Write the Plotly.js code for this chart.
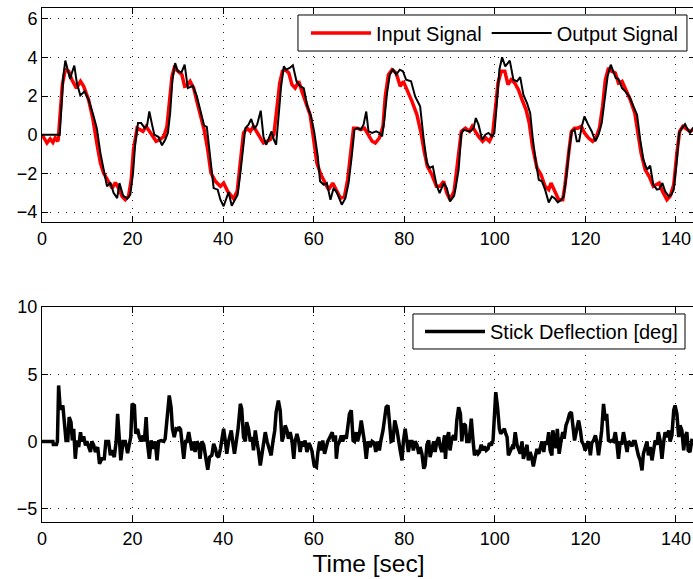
<!DOCTYPE html>
<html>
<head>
<meta charset="utf-8">
<script src="https://cdn.plot.ly/plotly-3.0.1.min.js"></script>
<style>
html,body{margin:0;padding:0;overflow:hidden;background:#fff;}
#chart{width:695px;height:579px;}
</style>
</head>
<body>
<div id="chart"></div>
<script>
// ---- Data ----
const inputT = [0,1.1,1.8,2.4,2.9,3.5,3.6,4.0,4.5,5.15,5.9,6.6,7.6,8.5,9.2,10.3,11.2,12.1,12.9,13.6,14.7,15.5,16.2,16.9,17.7,18.4,19.1,19.7,20.2,21.0,21.7,22.3,23.0,23.8,24.5,25.2,26.0,26.9,27.6,28.2,28.7,29.2,29.9,30.9,31.5,32.0,32.7,33.5,34.2,35.0,35.8,36.6,37.3,38.3,39.4,40.1,41.0,41.9,42.3,43.1,43.8,44.5,45.3,46.0,46.7,47.5,48.2,48.9,49.7,50.4,51.2,51.9,52.5,53.1,53.7,54.5,55.2,55.9,56.7,57.4,58.4,59.2,60.0,60.7,61.6,62.6,63.3,64.2,65.0,65.9,66.8,67.5,68.2,68.8,69.6,70.4,71.2,71.9,72.9,73.6,74.5,75.3,75.8,76.5,77.3,78.2,79.1,79.8,80.6,81.7,82.8,83.7,84.4,85.1,86.1,87.1,87.9,88.7,89.4,90.1,91.0,91.8,92.6,93.5,94.4,95.0,95.7,96.4,97.3,98.0,98.8,99.5,100.1,100.7,101.4,102.2,102.9,103.6,104.4,105.2,106.0,106.9,107.6,108.3,109.3,110.2,111.1,111.9,112.4,113.2,114.1,115.0,115.5,116.3,116.9,117.6,118.3,119.1,119.8,120.7,121.6,122.3,123.1,123.8,124.4,125.1,125.8,126.6,127.3,128.1,128.9,129.9,130.9,131.6,132.3,133.2,134.1,135.0,135.8,136.3,137.0,138.0,138.7,139.5,140.2,140.8,141.5,142.4,143.1,143.8,144.3];
const inputV = [0,-0.43,-0.22,-0.4,-0.17,-0.34,-0.2,1.2,2.6,3.36,3.28,2.84,2.41,2.76,2.5,1.8,0.86,-0.43,-1.47,-1.98,-2.41,-2.76,-2.47,-2.76,-3.19,-3.36,-3.19,-2.33,-0.78,0.34,0.26,0.17,0.43,0.17,-0.09,-0.34,-0.26,-0.09,0.43,1.8,3.0,3.45,3.28,3.1,2.5,2.53,2.76,2.41,1.72,1.03,0.26,-0.78,-1.98,-2.41,-2.67,-2.5,-2.93,-3.19,-3.3,-2.93,-1.47,0.09,0.34,0.17,0.43,0.09,-0.17,-0.43,-0.34,-0.26,0,1.29,2.67,3.28,3.36,3.19,2.59,2.41,2.76,2.24,1.55,1.03,-0.26,-1.47,-2.07,-2.5,-2.84,-2.5,-2.84,-3.28,-3.19,-2.33,-0.86,0.34,0.34,0.26,0.34,0.09,-0.34,-0.43,-0.17,0.43,1.98,3.1,3.36,3.19,2.5,2.76,2.33,1.72,1.03,0.09,-0.86,-1.64,-2.07,-2.67,-2.67,-2.41,-3.02,-3.36,-2.93,-1.3,0.17,0.34,0.17,0.43,0.17,-0.09,-0.34,-0.17,-0.34,0,1.29,2.67,3.28,3.28,2.59,2.84,2.67,2.33,1.81,1.29,0.6,-0.6,-1.72,-2.07,-2.67,-2.84,-2.5,-2.93,-3.36,-3.36,-2.59,-0.95,0.17,0.34,0.34,0.43,0.09,-0.17,-0.34,-0.17,0.34,1.47,2.84,3.45,3.28,3.19,2.67,2.76,2.33,1.81,1.12,0.09,-0.95,-1.81,-2.16,-2.67,-2.59,-2.5,-2.93,-3.36,-3.19,-2.59,-0.95,0.17,0.43,0.26,0.17,0.26,0.3];

const outputT = [0,3.7,3.9,4.3,4.7,5.15,5.6,6.2,6.6,7.14,7.7,8.46,9.4,10.3,11.4,12.1,12.9,13.6,14.35,15.1,15.8,16.6,17.1,17.9,18.8,19.5,20.1,20.6,21.2,21.9,22.7,23.2,23.7,24.3,24.8,25.75,26.5,27.2,27.8,28.3,28.8,29.4,30.0,30.8,31.5,32.2,33.3,34.2,35.0,35.8,36.4,37.2,37.9,38.8,39.4,40.1,41.2,41.9,42.7,43.2,43.8,44.4,44.9,45.6,46.2,46.9,47.5,48.3,48.9,49.5,50.0,50.7,51.2,51.7,52.3,52.8,53.4,53.9,54.7,55.4,56.2,56.9,57.8,58.6,59.4,60.1,60.9,61.4,62.2,62.9,63.7,64.4,65.1,66.2,67.0,67.7,68.4,69.0,69.7,70.4,71.0,71.6,72.1,72.9,73.8,74.5,75.1,75.6,76.2,76.8,77.5,78.2,79.0,79.7,80.4,81.5,82.4,83.5,84.3,85.0,85.6,86.3,87.1,87.8,88.7,89.4,90.1,91.0,91.4,92.0,92.6,93.1,93.9,94.6,95.3,95.8,96.4,97.2,97.9,98.6,99.4,99.9,100.5,101.0,101.6,102.3,103.3,104.1,104.9,105.6,106.3,107.1,107.8,108.4,109.1,109.7,110.4,111.1,111.9,112.6,113.2,113.9,114.7,115.2,115.8,116.4,117.0,117.6,118.1,118.6,119.2,119.8,120.5,121.4,122.2,122.9,123.6,124.2,124.9,125.6,126.2,126.7,127.3,128.1,128.8,129.7,130.6,131.4,132.1,132.8,133.6,134.3,135.0,135.8,136.3,137.0,137.6,138.4,139.0,139.5,140.2,140.7,141.3,142.0,142.6,143.1,143.7,144.3];
const outputV = [0,0,-0.05,1.3,3.0,3.83,3.4,2.88,3.2,3.57,2.67,2.03,2.24,1.8,0.95,0.34,-0.95,-1.8,-2.67,-2.47,-3.0,-3.28,-2.5,-3.15,-3.3,-3.1,-1.98,-0.43,0.6,0.6,0.34,0.47,1.2,0.52,0,-0.12,-0.55,-0.26,0.09,1.12,2.84,3.7,3.28,3.22,3.62,2.41,2.53,1.98,1.29,0.47,0.4,-1.12,-2.76,-2.84,-3.36,-3.7,-2.97,-3.67,-3.36,-3.1,-1.98,-0.78,0.34,0.52,0.81,0.29,0.52,1.24,-0.09,-0.52,-0.26,0.17,-0.26,-0.52,1.12,2.5,3.53,3.36,3.45,3.59,2.76,2.53,2.41,1.47,0.95,0.17,-1.12,-2.41,-2.59,-2.5,-3.36,-2.76,-2.98,-3.62,-3.28,-2.5,-1.12,0.26,0.34,0.26,0.52,1.2,0.17,0.09,0.17,0.09,-0.09,0.78,2.16,3.1,3.4,3.1,3.36,3.28,2.84,2.76,1.98,1.47,-0.26,-1.47,-1.72,-1.64,-2.59,-3.02,-2.5,-2.76,-3.45,-3.16,-2.67,-1.8,0.05,0.26,0.2,0.17,0.34,0.86,0.52,-0.26,0,0.09,-0.09,0.09,1.81,3.36,4.0,3.53,3.83,2.84,2.76,2.98,2.07,1.64,1.12,-0.26,-1.47,-2.33,-2.41,-2.84,-3.5,-3.19,-3.28,-3.5,-3.36,-3.19,-2.16,-0.78,0.17,0.26,-0.34,-0.34,0.43,0.95,0.57,0.17,-0.34,0,0.6,1.81,3.02,3.62,3.28,2.93,2.88,2.41,2.24,1.98,1.47,1.03,-0.26,-1.29,-1.81,-1.6,-2.59,-2.84,-2.8,-2.5,-2.93,-3.19,-3.1,-2.84,-1.29,0.09,0.34,0.55,0.26,0.09,0.34,0.3];

const stickT = [0,2.4,2.5,3.2,3.4,3.67,4.0,4.3,4.6,4.9,5.3,5.7,6.0,6.4,6.7,7.0,7.35,7.7,8.1,8.5,8.8,9.2,9.6,9.9,10.3,10.7,11.0,11.4,11.8,12.3,12.7,13.2,13.75,14.1,14.7,15.1,15.4,15.96,16.4,16.7,17.1,17.4,17.9,18.4,18.9,19.35,19.6,19.9,20.4,20.7,21.1,21.5,21.9,22.3,22.6,23.0,23.3,23.7,24.1,24.5,25.0,25.4,25.75,26.3,26.9,27.2,27.7,28.1,28.5,28.8,29.2,29.6,30.0,30.2,30.6,30.9,31.3,31.7,32.0,32.4,32.7,33.1,33.5,33.8,34.2,34.6,34.9,35.3,35.7,36.1,36.6,37.0,37.5,37.9,38.3,38.6,39.0,39.4,39.7,40.1,40.5,40.8,41.2,41.8,42.1,42.5,42.9,43.3,43.8,44.1,44.5,44.9,45.2,45.6,46.0,46.4,46.7,47.1,47.4,47.8,48.2,48.6,48.9,49.3,49.7,50.2,50.6,51.0,51.4,51.7,52.2,52.6,53.0,53.3,53.7,54.1,54.4,54.8,55.2,55.6,55.9,56.3,56.7,57.0,57.4,57.8,58.1,58.5,58.9,59.2,59.6,60.1,60.6,60.9,61.3,61.7,62.0,62.4,62.8,63.1,63.4,63.8,64.1,64.4,64.8,65.0,65.3,65.7,66.1,66.4,66.8,67.2,67.6,67.9,68.3,68.7,69.0,69.4,69.7,70.1,70.5,70.9,71.2,71.6,72.0,72.5,72.9,73.4,73.7,74.1,74.5,74.8,75.3,75.7,76.0,76.4,76.7,77.1,77.5,77.9,78.4,78.7,79.1,79.5,79.8,80.2,80.6,80.9,81.3,81.7,82.0,82.4,82.8,83.2,83.5,83.9,84.3,84.6,85.0,85.4,85.7,86.1,86.5,86.8,87.2,87.6,87.9,88.3,88.7,88.9,89.1,89.4,89.8,90.1,90.5,90.9,91.3,91.6,92.0,92.4,92.7,93.1,93.5,93.8,94.3,94.8,95.2,95.5,95.9,96.3,96.6,97.0,97.4,97.7,98.1,98.5,98.8,99.2,99.6,99.9,100.2,100.6,101.0,101.3,101.7,102.1,102.4,102.7,103.0,103.4,103.8,104.1,104.5,104.9,105.2,105.6,106.0,106.3,106.7,107.1,107.4,107.8,108.2,108.5,108.9,109.3,109.7,110.0,110.4,110.8,111.1,111.5,111.9,112.2,112.6,112.8,113.2,113.5,113.8,114.2,114.6,115.0,115.3,115.7,116.1,116.5,116.9,117.2,117.6,118.1,118.5,118.9,119.2,119.6,119.95,120.3,120.7,121.1,121.4,121.8,122.2,122.5,122.9,123.3,123.6,124.0,124.4,124.7,125.1,125.5,125.8,126.2,126.6,126.9,127.3,127.7,128.0,128.4,128.8,129.2,129.5,129.9,130.3,130.6,131.0,131.4,131.7,132.1,132.5,132.8,133.2,133.6,133.9,134.3,134.7,135.0,135.4,135.8,136.1,136.5,136.9,137.3,137.6,138.0,138.4,138.7,139.1,139.5,139.8,140.2,140.6,140.9,141.3,141.7,142.0,142.4,142.7,143.1,143.5,144.3];
const stickV = [0,0,-0.22,-0.22,0,4.17,2.55,2.4,2.68,1.56,0.07,0.07,1.81,1.44,0.07,0.94,-1.29,0.07,-0.42,0.69,0,0.37,-0.3,0,-0.42,-0.79,0,-0.25,-0.79,-0.42,-1.66,-1.29,-1.29,0,0,-1.04,-0.67,-1.17,0.07,2.06,0.07,-1.41,0,0,-0.87,0,0.32,2.8,2.68,0.57,0.94,0.32,0,0.45,0,1.81,-0.17,-1.29,0.07,-0.55,0,-1.41,0,0.07,0,0.2,2.31,3.42,2.55,0.94,0.32,0.94,0.9,1.07,0.9,0,-1.29,0,0,0.69,0.07,-0.67,0,-0.79,0,-0.25,-1.29,0,-0.25,-1.04,-2.1,-1.17,-1.04,-0.17,-0.55,-1.04,-1.17,-0.55,0,0.94,0,-0.92,0,0.82,0,-0.92,0,0.94,2.8,2.43,0.32,0,1.44,0.94,0,0.32,-0.67,0.82,0.07,-0.67,-1.79,-0.79,0,0.69,0,-0.55,-1.04,0,0.82,2.18,3.05,2.31,0,0.32,1.19,0.82,0.2,0.69,0.07,-1.29,0,0.57,0,-0.79,0,-0.37,0.07,-0.79,-0.12,-0.3,-0.7,-1.79,-1.91,-0.87,0,-0.67,0.07,-0.92,-0.3,0,0.2,0.57,0.69,0,0.45,-1.29,-0.3,0,0.45,0,0.45,0.2,1.56,2.06,2.31,0.07,0,0.69,0,0.57,1.56,0.82,0,-1.29,0,-0.42,0,-0.12,-0.79,0,-0.67,0,0.82,1.81,2.55,2.68,1.56,0,0.07,1.56,0.82,0,-0.67,-1.41,0,0.94,0,-0.79,0,0,-0.67,0,-0.25,-0.92,-0.42,-0.92,-2.03,-1.79,-0.25,0.07,-1.17,-0.42,0,-0.79,0,0.32,-0.37,-0.79,0.07,0.45,-1.3,0.2,0.69,-0.67,0.2,0.45,0.07,1.56,2.55,2.06,0,1.31,1.19,0,0,1.69,0,-1.04,-0.67,-0.92,-0.79,-0.25,-0.67,-0.37,-0.67,-0.55,-0.12,-0.3,0.07,2.06,3.67,2.55,0.94,0.57,0.82,0.94,0.57,0.32,-1.04,-0.79,-0.42,-0.55,0.69,-0.25,-0.55,-0.92,0,-1.29,-0.79,-0.25,-1.41,-0.79,-1.29,-1.86,-1.17,-0.55,-0.92,-0.55,0,-0.79,0,-0.25,0.69,-0.67,-1.04,0.82,-0.12,-0.5,0.94,-0.92,0,0.69,0.2,1.19,1.56,2.06,2.18,0.94,0.07,0.94,1.56,0.82,0,-0.25,-0.67,-0.25,0,-1.04,-0.12,0.07,0.45,0,-1.04,0,0.82,2.8,1.56,2.06,0.07,0,0.07,0,0.69,0,-1.29,0,-0.25,0.69,0,-0.79,0,-0.12,-0.37,0,0,-0.67,-1.04,-1.41,-2.16,-0.92,-0.42,0,-1.04,-0.42,-1.41,-0.67,0.07,-0.25,0.69,0.07,-1.29,0,0.69,0.32,0.82,0,0.45,2.31,2.68,2.06,0.32,1.19,0.82,-0.67,0.32,0.69,-0.67,-0.79,0.07,0];

const xTicks = [0,20,40,60,80,100,120,140];
const yTicksTop = [-4,-2,0,2,4,6];
const yTicksBottom = [-5,0,5,10];

// ---- Styling ----
const FONT = 'Liberation Sans, Arial, Helvetica, sans-serif';
const gridDash = '1px,7px';
function xAx(extra){
  return Object.assign({
    range:[0,144.2], tickmode:'array', tickvals:xTicks,
    showgrid:true, gridcolor:'#222', gridwidth:1, griddash:gridDash,
    zeroline:false, showline:true, linecolor:'#000', linewidth:1, mirror:'ticks',
    ticks:'inside', ticklen:6, tickcolor:'#000', tickwidth:1,
    tickfont:{family:FONT,size:18,color:'#000'}, automargin:false
  }, extra);
}
function yAx(extra){
  return Object.assign({
    tickmode:'array',
    showgrid:true, gridcolor:'#222', gridwidth:1, griddash:gridDash,
    zeroline:false, showline:true, linecolor:'#000', linewidth:1, mirror:'ticks',
    ticks:'inside', ticklen:6, tickcolor:'#000', tickwidth:1,
    tickfont:{family:FONT,size:18,color:'#000'}, automargin:false
  }, extra);
}

const traces = [
  {x:inputT, y:inputV, type:'scatter', mode:'lines', name:'Input Signal',
   line:{color:'#ff0000', width:3.5}, xaxis:'x', yaxis:'y', legend:'legend'},
  {x:outputT, y:outputV, type:'scatter', mode:'lines', name:'Output Signal',
   line:{color:'#000000', width:2}, xaxis:'x', yaxis:'y', legend:'legend'},
  {x:stickT, y:stickV, type:'scatter', mode:'lines', name:'Stick Deflection [deg]',
   line:{color:'#000000', width:3.5}, xaxis:'x2', yaxis:'y2', legend:'legend2'}
];

const legendFont = {family:FONT,size:20,color:'#000'};
const layout = {
  width:695, height:579,
  margin:{l:42, r:0, t:8, b:57},
  paper_bgcolor:'#fff', plot_bgcolor:'#fff',
  font:{family:FONT, color:'#000'},
  showlegend:true,
  xaxis: xAx({anchor:'y', domain:[0,1]}),
  yaxis: yAx({anchor:'x', domain:[0.583,1], range:[-4.53,6.55], tickvals:yTicksTop}),
  xaxis2: xAx({anchor:'y2', domain:[0,1],
    title:{text:'Time [sec]', font:{family:FONT,size:24.5,color:'#000'}, standoff:7}}),
  yaxis2: yAx({anchor:'x2', domain:[0,0.418], range:[-6,10], tickvals:yTicksBottom}),
  shapes:[
    {type:'rect', xref:'paper', yref:'paper', x0:0.3920, x1:0.9877, y0:0.9163, y1:0.9864,
     line:{color:'#000', width:1}, fillcolor:'#fff', layer:'above'},
    {type:'rect', xref:'paper', yref:'paper', x0:0.5681, x1:0.9847, y0:0.3366, y1:0.4047,
     line:{color:'#000', width:1}, fillcolor:'#fff', layer:'above'}
  ],
  legend:{orientation:'h', x:0.4043, xanchor:'left', y:0.9514, yanchor:'middle',
    bgcolor:'rgba(0,0,0,0)', borderwidth:0, itemwidth:60, font:legendFont},
  legend2:{orientation:'h', x:0.5789, xanchor:'left', y:0.3706, yanchor:'middle',
    bgcolor:'rgba(0,0,0,0)', borderwidth:0, itemwidth:60, font:legendFont}
};

Plotly.newPlot('chart', traces, layout, {staticPlot:true, displayModeBar:false});
</script>
</body>
</html>
